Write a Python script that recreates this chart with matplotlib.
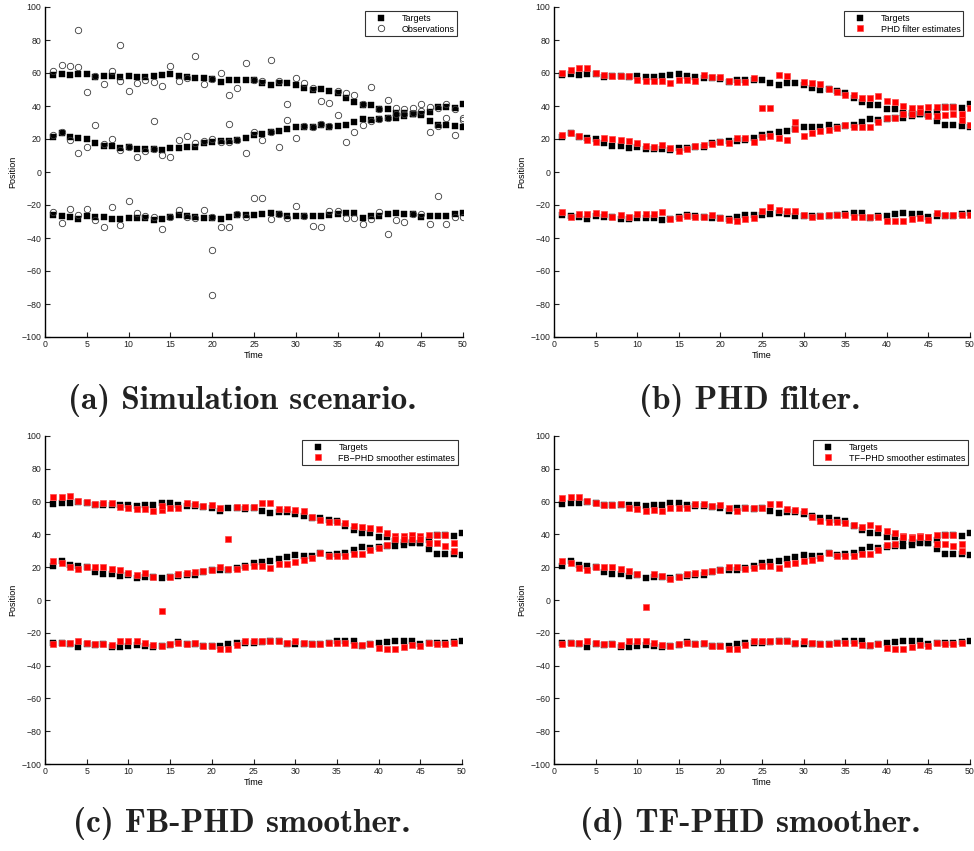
import numpy as np
import matplotlib
matplotlib.use('Agg')
import matplotlib.pyplot as plt

plt.rcParams['font.family'] = ['Liberation Sans', 'DejaVu Sans']

nan = np.nan
time = np.arange(1, 51)

# true target positions (three tracks)
target_upper = [58.5, 59.2, 59.0, 59.5, 59.2, 57.8, 58.0, 58.0, 57.8, 58.2,
                57.6, 57.8, 58.2, 59.0, 59.2, 58.0, 57.4, 57.2, 57.0, 56.4,
                54.5, 55.8, 56.0, 55.5, 56.0, 54.0, 53.0, 53.7, 53.7, 52.5,
                51.0, 50.0, 50.3, 49.0, 48.0, 45.0, 42.7, 40.8, 40.6, 38.2,
                38.2, 36.0, 35.6, 35.3, 35.0, 36.5, 39.6, 39.6, 39.0, 41.0]
target_middle = [21.0, 23.5, 21.5, 20.7, 20.0, 17.3, 15.8, 15.9, 14.6, 15.0,
                 13.7, 14.2, 13.8, 13.3, 14.3, 14.5, 15.3, 15.4, 17.3, 18.3,
                 18.5, 18.5, 19.5, 20.6, 22.3, 23.0, 24.0, 25.0, 26.1, 27.5,
                 27.0, 27.0, 28.7, 27.3, 28.1, 28.5, 30.5, 32.1, 31.7, 32.1,
                 32.7, 33.0, 33.7, 35.0, 34.5, 31.0, 28.3, 28.3, 27.9, 27.5]
target_lower = [-26.1, -26.5, -27.1, -28.5, -26.7, -27.2, -27.0, -28.5, -28.5, -28.0,
                -27.6, -28.0, -28.9, -28.2, -27.4, -25.8, -26.7, -27.0, -27.8, -27.8,
                -28.3, -27.0, -26.3, -26.2, -26.0, -25.6, -25.0, -25.3, -26.8, -26.6,
                -26.6, -26.6, -26.8, -26.0, -25.3, -25.1, -25.0, -27.8, -26.7, -26.4,
                -25.6, -25.1, -25.2, -25.3, -27.0, -26.5, -26.4, -26.5, -25.4, -25.0]

# noisy measurements incl. clutter
obs_upper = [61.1, 65.0, 64.4, 63.6, 48.2, 58.0, 53.6, 61.1, 55.4, 49.0,
             54.2, 55.6, 54.4, 52.0, 64.2, 55.0, 57.0, 70.0, 53.2, 56.2,
             60.0, 46.6, 51.2, 66.0, 56.0, 55.0, 68.0, 55.0, 41.2, 57.2,
             53.7, 51.0, 43.0, 42.0, 49.0, 48.0, 46.5, 41.2, 51.6, 38.0,
             43.4, 38.5, 38.0, 39.0, 41.0, 39.5, 39.0, 41.0, 38.0, 33.0]
obs_middle = [22.7, 24.1, 19.5, 11.5, 15.4, 28.6, 17.0, 20.0, 13.4, 15.4,
              8.9, 12.5, 14.0, 10.5, 8.9, 19.5, 22.1, 17.4, 19.0, 20.0,
              18.4, 18.0, 19.5, 11.5, 24.5, 19.5, 24.0, 15.4, 31.5, 20.7,
              28.0, 27.0, 29.0, 28.0, 34.8, 18.0, 24.5, 28.5, 31.0, 32.0,
              33.0, 35.0, 35.0, 36.0, 37.0, 24.2, 28.0, 32.8, 22.7, 31.5]
obs_lower = [-24.0, -31.0, -22.5, -26.2, -22.2, -29.2, -33.3, -21.1, -32.1, -17.5,
             -25.0, -26.7, -27.3, -34.7, -27.3, -23.0, -27.3, -28.1, -23.0, -27.3,
             -33.1, -33.1, -25.2, -27.3, -16.0, -16.0, -28.6, -25.2, -28.1, -20.9,
             -26.7, -32.7, -33.1, -23.5, -23.5, -28.1, -28.1, -31.3, -28.6, -24.1,
             -37.7, -29.2, -30.0, -25.2, -25.2, -31.7, -14.4, -31.3, -27.3, -27.3]
obs_extra_t = [4, 9, 13, 22, 20, 20]
obs_extra_pos = [86.2, 77.2, 31.0, 29.2, -47.0, -74.4]

# (b) PHD filter estimates
phd_upper = [59.8, 62.0, 62.8, 62.8, 59.8, 59.0, 58.0, 58.0, 58.4, 55.8,
             55.4, 55.4, 55.0, 54.0, 55.8, 55.8, 55.4, 59.0, 57.8, 57.4,
             55.4, 54.3, 54.3, 56.7, nan, nan, 59.0, 58.0, nan, 54.7,
             53.9, 53.3, 50.3, 48.3, 46.6, 46.6, 44.8, 44.8, 45.8, 43.2,
             42.2, 39.8, 38.8, 38.8, 39.2, 39.6, 39.6, 39.2, 35.0, 39.0]
phd_middle = [22.4, 23.6, 22.0, 19.4, 18.4, 20.6, 20.0, 19.6, 18.6, 17.6,
              15.6, 15.0, 16.4, 14.3, 13.0, 14.0, 16.0, 16.4, 17.0, 18.0,
              17.6, 20.4, 20.4, 18.4, 21.0, 22.0, 20.6, 19.4, 26.0, 22.0,
              23.4, 24.6, 25.4, 26.5, 28.5, 27.3, 27.3, 27.3, 30.1, 32.7,
              33.0, 35.0, 35.0, 36.2, 34.1, 34.1, 34.8, 35.0, 31.5, 28.6]
phd_lower = [-24.0, -27.5, -25.3, -25.7, -25.0, -25.7, -27.5, -26.0, -27.5, -25.3,
             -25.3, -25.3, -24.5, -28.3, -27.7, -26.7, -27.3, -27.3, -26.3, -27.7,
             -29.1, -29.5, -28.5, -28.1, -23.5, -21.5, -23.1, -23.9, -23.5, -26.0,
             -27.5, -26.9, -26.3, -26.3, -26.3, -27.1, -27.5, -27.5, -27.1, -29.9,
             -29.9, -29.9, -28.5, -27.9, -29.1, -25.1, -26.3, -26.3, -26.3, -26.3]
phd_extra_t = [25, 26, 29]
phd_extra_pos = [38.5, 38.5, 30.5]

# (c) forward-backward PHD smoother estimates
fb_upper = [62.7, 63.0, 63.2, 60.2, 59.6, 58.4, 59.0, 59.0, 56.6, 56.0,
            55.3, 55.3, 54.5, 54.9, 56.0, 56.0, 59.0, 58.4, 57.6, 58.0,
            56.0, nan, 57.0, 57.0, 56.6, 59.4, 59.0, 55.3, 55.3, 54.9,
            54.3, 50.9, 48.8, 47.8, 47.8, 46.8, 45.4, 44.4, 43.7, 43.1,
            40.7, 39.1, 39.1, 39.7, 39.1, 39.7, 39.7, 39.7, 35.0, nan]
fb_middle = [24.0, 22.8, 20.0, 18.8, 20.4, 20.4, 20.4, 18.8, 18.0, 16.4,
             15.3, 16.4, 14.3, nan, 14.3, 16.0, 16.4, 17.0, 17.8, 18.4,
             20.4, 19.0, 19.0, 20.4, 20.8, 20.8, 19.4, 22.0, 22.0, 23.4,
             24.4, 25.8, 28.5, 26.9, 26.9, 26.9, 27.9, 27.9, 30.6, 31.6,
             33.6, 37.5, 37.5, 37.5, 37.5, 35.0, 35.0, 33.0, 30.1, nan]
fb_lower = [-26.7, -26.0, -26.0, -25.3, -26.0, -26.7, -26.7, -27.3, -25.3, -25.3,
            -25.3, -26.0, -27.3, -28.0, -26.7, -26.3, -26.9, -26.3, -27.9, -28.3,
            -29.9, -29.9, -27.7, -25.3, -24.7, -24.9, -25.3, -25.3, -26.0, -25.3,
            -26.0, -27.0, -27.0, -26.3, -26.3, -26.3, -27.3, -27.3, -27.0, -29.3,
            -29.7, -29.7, -28.7, -27.7, -28.3, -26.3, -26.7, -26.7, -26.3, nan]
fb_extra_t = [14, 14, 22]
fb_extra_pos = [57.5, -7.0, 37.5]

# (d) two-filter PHD smoother estimates
tf_upper = [62.3, 62.9, 63.1, 60.2, 59.4, 58.2, 58.2, 58.8, 56.4, 55.2,
            54.4, 54.8, 54.2, 56.2, 56.2, 55.8, 58.8, 58.8, 57.4, 57.8,
            55.8, 54.2, 56.4, 56.4, 56.4, 58.8, 58.8, 55.2, 54.8, 54.4,
            50.7, 48.3, 47.7, 47.7, 47.1, 45.6, 44.6, 45.6, 44.2, 42.2,
            40.6, 38.9, 38.5, 38.9, 38.5, 39.6, 39.6, 39.6, 34.1, nan]
tf_middle = [23.7, 22.7, 19.7, 18.3, 20.3, 20.3, 19.9, 18.7, 17.8, 15.8,
             nan, 15.8, 14.8, 12.8, 13.8, 15.8, 16.2, 16.8, 17.8, 18.3,
             19.9, 20.3, 18.9, 19.7, 20.7, 20.7, 19.3, 21.9, 22.7, 23.7,
             24.3, 25.8, 28.4, 26.8, 26.8, 26.8, 27.8, 27.8, 30.4, 33.5,
             34.1, 38.5, 38.1, 38.5, 38.5, 34.1, 34.1, 32.9, 30.0, nan]
tf_lower = fb_lower
tf_extra_t = [11]
tf_extra_pos = [-4.3]

captions = ['(a) Simulation scenario.', '(b) PHD filter.',
            '(c) FB-PHD smoother.', '(d) TF-PHD smoother.']
est_labels = ['PHD filter estimates', 'FB\u2212PHD smoother estimates',
              'TF\u2212PHD smoother estimates']

fig = plt.figure(figsize=(9.74, 8.51), dpi=100)
W, H = 974, 851
boxes = [(45, 7, 463, 337), (554, 7, 970, 337),
         (45, 436, 462, 764), (554, 436, 970, 764)]
legend_corner = [(457, 11), (963, 11), (458, 440), (968, 440)]
axes = []
for (x0, y0, x1, y1) in boxes:
    ax = fig.add_axes([x0 / W, 1 - y1 / H, (x1 - x0) / W, (y1 - y0) / H])
    axes.append(ax)

SQ = 3.8
for i, ax in enumerate(axes):
    h_t, = ax.plot(time, target_upper, 's', color='black', ms=SQ, mec='black', mew=0.3,
                   label='Targets', zorder=3)
    ax.plot(time, target_middle, 's', color='black', ms=SQ, mec='black', mew=0.3, zorder=3)
    ax.plot(time, target_lower, 's', color='black', ms=SQ, mec='black', mew=0.3, zorder=3)

    if i == 0:
        kw = dict(ls='none', marker='o', mfc='none', mec='#3a3a3a', ms=4.6, mew=0.6, zorder=4)
        h_e, = ax.plot(time, obs_upper, label='Observations', **kw)
        ax.plot(time, obs_middle, **kw)
        ax.plot(time, obs_lower, **kw)
        ax.plot(obs_extra_t, obs_extra_pos, **kw)
    else:
        est = [(phd_upper, phd_middle, phd_lower, phd_extra_t, phd_extra_pos),
               (fb_upper, fb_middle, fb_lower, fb_extra_t, fb_extra_pos),
               (tf_upper, tf_middle, tf_lower, tf_extra_t, tf_extra_pos)][i - 1]
        kw = dict(ls='none', marker='s', color='#ff0000', mec='#ff4848', ms=SQ, mew=0.5, zorder=4)
        h_e, = ax.plot(time, est[0], label=est_labels[i - 1], **kw)
        ax.plot(time, est[1], **kw)
        ax.plot(time, est[2], **kw)
        ax.plot(est[3], est[4], **kw)

    ax.set_xlim(0, 50)
    ax.set_ylim(-100, 100)
    ax.set_xticks(np.arange(0, 51, 5))
    ax.set_yticks(np.arange(-100, 101, 20))
    ax.set_yticklabels([str(v).replace('-', '\u2212') for v in range(-100, 101, 20)])
    for side in ('top', 'right'):
        ax.spines[side].set_visible(False)
    for side in ('left', 'bottom'):
        ax.spines[side].set_linewidth(1.0)
    ax.tick_params(direction='in', length=3.5, width=0.8, labelsize=6.3,
                   colors='#222222', pad=2.5)
    ax.set_xlabel('Time', fontsize=6.5, labelpad=1)
    ax.set_ylabel('Position', fontsize=6.5, labelpad=3)

    lx, ly = legend_corner[i]
    leg = ax.legend(handles=[h_t, h_e], loc='upper right',
                    bbox_to_anchor=(lx / W, 1 - ly / H), bbox_transform=fig.transFigure,
                    fontsize=6.5, frameon=True, fancybox=False, borderpad=0.3,
                    handlelength=2.8, handletextpad=0.9, labelspacing=0.2,
                    borderaxespad=0, numpoints=1)
    leg.get_frame().set_edgecolor('black')
    leg.get_frame().set_linewidth(0.8)

    cx = (boxes[i][0] + boxes[i][2]) / 2 - 12
    cy = 401 if i < 2 else 823
    fig.text(cx / W, 1 - cy / H, captions[i], family='cmb10', fontsize=24,
             ha='center', va='center', color='#222222')

fig.savefig('out.png', dpi=100)
